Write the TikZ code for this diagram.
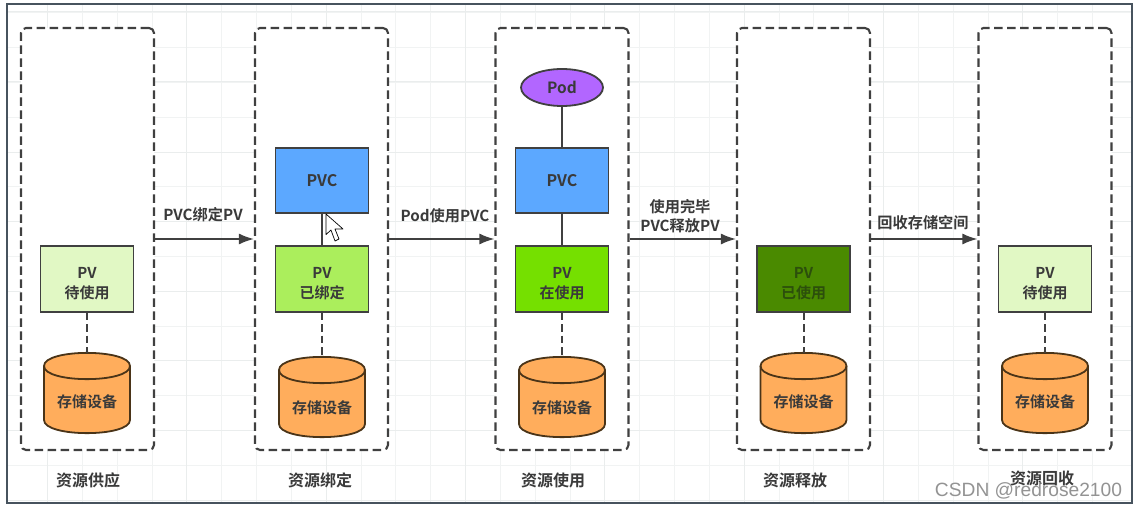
\documentclass[tikz,border=0pt]{standalone}
\usepackage{fontspec}
\setmainfont{Noto Sans CJK SC}[BoldFont={* Bold}]
\setsansfont{Liberation Sans}
\usetikzlibrary{shapes.geometric,arrows.meta}
\definecolor{ln}{HTML}{404040}
\definecolor{tx}{HTML}{3A3A3A}
\definecolor{gridc}{HTML}{F1F3F3}
\definecolor{gridd}{HTML}{EAEDED}
\definecolor{framec}{HTML}{47535E}
\definecolor{pvcblue}{HTML}{5CA8FF}
\definecolor{storeor}{HTML}{FFAD5C}
\definecolor{storeln}{HTML}{4A3418}
\definecolor{pvpale}{HTML}{E1F8C4}
\definecolor{pvlime}{HTML}{ABEE5C}
\definecolor{pvgreen}{HTML}{75E000}
\definecolor{pvdark}{HTML}{4A8A00}
\definecolor{pvdarktx}{HTML}{2C4F0C}
\definecolor{podv}{HTML}{B266FF}
\tikzset{
  stagebox/.style={draw=ln,line width=2.1pt,dash pattern=on 8.5pt off 4.5pt,rounded corners=5pt,minimum width=133pt,minimum height=422pt,inner sep=0},
  pvbox/.style={draw=ln,line width=1.8pt,minimum width=93pt,minimum height=65.5pt,inner sep=0,text=tx,align=center,font=\bfseries\fontsize{15}{20}\selectfont},
  pvc/.style={pvbox,fill=pvcblue,font=\bfseries\fontsize{16}{20}\selectfont},
  storeslot/.style={minimum width=86pt,minimum height=80pt,inner sep=0,outer sep=0},
  storepath/.style={draw=storeln,line width=1.8pt,fill=storeor},
  storetext/.style={text=tx,font=\bfseries\fontsize{15}{18}\selectfont},
  caption/.style={text=tx,font=\bfseries\fontsize{16}{18}\selectfont},
  flowlabel/.style={text=tx,align=center,font=\bfseries\fontsize{15.2}{19}\selectfont},
  flow/.style={draw=ln,line width=1.8pt,-{Latex[length=15pt,width=11pt]}},
  solidlink/.style={draw=ln,line width=2pt},
  dashlink/.style={draw=ln,line width=2pt,dash pattern=on 7.5pt off 4pt},
}
\newcommand{\pvtext}[1]{\rule{0pt}{20pt}PV\\#1}
% name, x, y of top edge, y of text
\newcommand{\storecyl}[4]{%
  \node[storeslot] (#1) at (#2,#3+40) {};
  \draw[storepath] (#2-43,#3+13) -- (#2-43,#3+67)
    .. controls (#2-43,#3+84.5) and (#2+43,#3+84.5) .. (#2+43,#3+67)
    -- (#2+43,#3+13)
    .. controls (#2+43,#3-4.5) and (#2-43,#3-4.5) .. cycle;
  \draw[storepath,fill=none] (#2-43,#3+13)
    .. controls (#2-43,#3+30.5) and (#2+43,#3+30.5) .. (#2+43,#3+13);
  \node[storetext] (#1t) at (#2,#4) {存储设备};
}
\begin{document}
\begin{tikzpicture}[x=1pt,y=-1pt]
\useasboundingbox (0,0) rectangle (1137,508);
\fill[white] (0,0) rectangle (1137,508);
% faint grid
\foreach \x in {47,82,117,152,186,221,256,291,326,361,395,430,465,500,535,570,604,639,674,709,744,779,813,848,883,918,953,988,1022,1057,1092}
  \draw[gridc,line width=.6pt] (\x,5) -- (\x,502);
\foreach \y in {12,47,82,117,152,186,221,256,291,326,360,395,430,465,500}
  \draw[gridc,line width=.6pt] (8,\y) -- (1131,\y);
\foreach \x in {47,186,326,465,604,744,883,1022}
  \draw[gridd,line width=1pt] (\x,5) -- (\x,502);
\foreach \y in {12,82,152,221,291,360,430,500}
  \draw[gridd,line width=1pt] (8,\y) -- (1131,\y);
\draw[draw=framec,line width=1.3pt] (7,4) rectangle (1132,503);
% stage boxes
\foreach \n/\x in {sa/87.5,sb/321.5,sc/562,sd/803.5,se/1045}
  \node[stagebox,fill=white] (\n) at (\x,239) {};
% arrows
\draw[flow] (sa.east) -- (sb.west);
\draw[flow] (sb.east) -- (sc.west);
\draw[flow] (sc.east) -- (sd.west);
\draw[flow] (sd.east) -- (se.west);
\node[flowlabel] (la) at (203,215) {PVC绑定PV};
\node[flowlabel] (lb) at (445,216) {Pod使用PVC};
\node[flowlabel] (lc) at (680,216) {使用完毕\\PVC释放PV};
\node[flowlabel] (ld) at (923,223) {回收存储空间};
% column 1
\node[pvbox,fill=pvpale] (pva) at (87,279) {\pvtext{待使用}};
\storecyl{ca}{87}{353}{402}
\draw[dashlink] (pva) -- (ca.north);
% column 2
\node[pvc] (pvcb) at (322,180.5) {PVC};
\node[pvbox,fill=pvlime] (pvb) at (322,279) {\pvtext{已绑定}};
\storecyl{cb}{322}{357}{408}
\draw[solidlink] (pvcb) -- (pvb);
\draw[dashlink] (pvb) -- (cb.north);
% cursor
\draw[black,fill=white,line width=.7pt,line join=round] (326,214) -- (326,234.5) -- (331,230) -- (335,241) -- (339,239) -- (335,229) -- (343,229) -- cycle;
% column 3
\node[draw=ln,line width=1.8pt,fill=podv,ellipse,minimum width=82pt,minimum height=37pt,inner sep=0,text=tx,font=\bfseries\fontsize{15.5}{18}\selectfont] (pod) at (562,87.5) {Pod};
\node[pvc] (pvcc) at (562,180.5) {PVC};
\node[pvbox,fill=pvgreen] (pvc3) at (562,279) {\pvtext{在使用}};
\storecyl{cc}{562}{357}{408}
\draw[solidlink] (pod) -- (pvcc);
\draw[solidlink] (pvcc) -- (pvc3);
\draw[dashlink] (pvc3) -- (cc.north);
% column 4
\node[pvbox,fill=pvdark,text=pvdarktx] (pvd) at (803.5,279) {\pvtext{已使用}};
\storecyl{cd}{803.5}{353}{402}
\draw[dashlink] (pvd) -- (cd.north);
% column 5
\node[pvbox,fill=pvpale] (pve) at (1045,279) {\pvtext{待使用}};
\storecyl{ce}{1045}{353}{402}
\draw[dashlink] (pve) -- (ce.north);
% captions
\node[caption] (ta) at (88,480) {资源供应};
\node[caption] (tb) at (320,480) {资源绑定};
\node[caption] (tc) at (553,480) {资源使用};
\node[caption] (td) at (795,480) {资源释放};
\node[caption] (te) at (1042,478) {资源回收};
\node[text=gray!85,font=\sffamily\fontsize{19.2}{20}\selectfont] (wm) at (1028.5,491) {CSDN @redrose2100};
\end{tikzpicture}
\end{document}
